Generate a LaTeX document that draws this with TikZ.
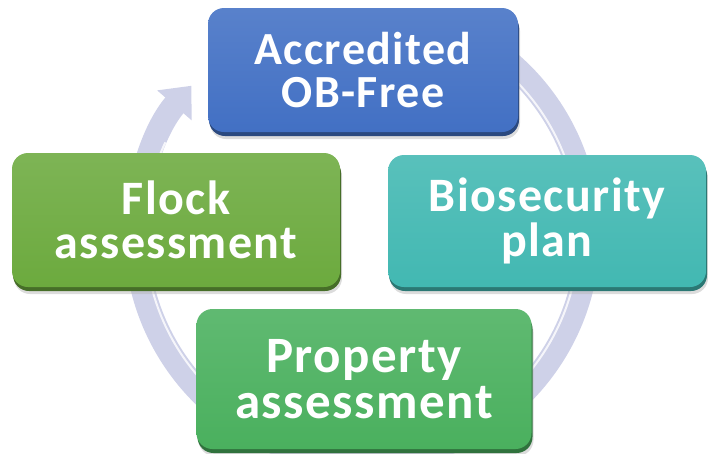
\documentclass[tikz,border=0pt]{standalone}
\usepackage{fontspec}
\setmainfont{Carlito}[LetterSpace=3]
\usetikzlibrary{arrows.meta, shadows}

\definecolor{accblue}{RGB}{66,112,196}
\definecolor{bioteal}{RGB}{66,184,178}
\definecolor{propgreen}{RGB}{74,176,94}
\definecolor{flockgreen}{RGB}{108,170,62}
\definecolor{ringgrey}{RGB}{206,209,232}

\begin{document}
\begin{tikzpicture}[x=1pt, y=-1pt,
    stage/.style={rectangle, rounded corners=16pt, align=center, text=white,
        inner sep=0pt, top color=#1!88!white, bottom color=#1,
        general shadow={fill=black!30, opacity=0.45, shadow xshift=2pt, shadow yshift=-7pt},
        general shadow={fill=#1!65!black, shadow xshift=1pt, shadow yshift=-4pt}},
    ring/.style={line width=24pt, draw=ringgrey}
]
    \useasboundingbox (0,0) rectangle (708,453);

    % Cycle ring behind the boxes
    \coordinate (hub) at (362,234);
    \draw[ring, -{Triangle[width=44pt, length=26pt]}]
        (hub) ++(-62:226) arc[start angle=-62, end angle=221, radius=226];
    \draw[white, line width=2pt, opacity=0.8]
        (hub) ++(-62:217) arc[start angle=-62, end angle=205, radius=217];

    % Stages
    \node[stage=accblue, minimum width=310pt, minimum height=124pt,
        font=\fontsize{46}{43}\selectfont\bfseries] (accredited) at (363,70) {Accredited\\OB-Free};
    \node[stage=bioteal, minimum width=318pt, minimum height=132pt,
        font=\fontsize{48}{45}\selectfont\bfseries] (biosecurity) at (547,221) {Biosecurity\\plan};
    \node[stage=propgreen, minimum width=335pt, minimum height=140pt,
        font=\fontsize{51}{46}\selectfont\bfseries] (property) at (364,379) {Property\\assessment};
    \node[stage=flockgreen, minimum width=328pt, minimum height=134pt,
        font=\fontsize{48}{44}\selectfont\bfseries] (flock) at (176,220) {Flock\\assessment};

\end{tikzpicture}
\end{document}
